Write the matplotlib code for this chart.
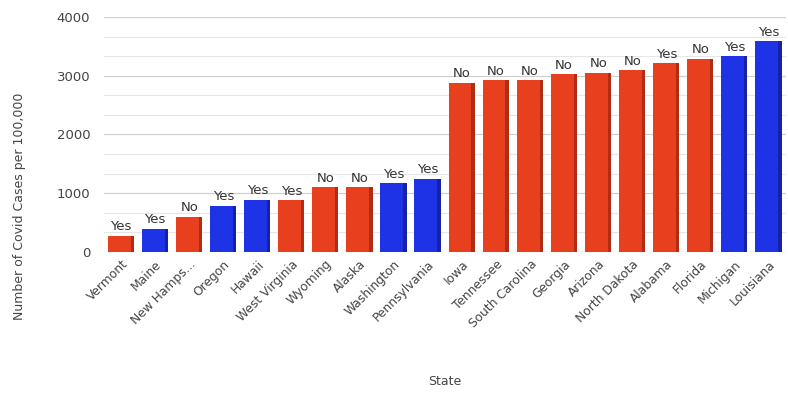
import matplotlib
matplotlib.use("Agg")
import matplotlib.pyplot as plt
import numpy as np
from matplotlib.ticker import MultipleLocator

states = ["Vermont", "Maine", "New Hamps...", "Oregon", "Hawaii", "West Virginia",
          "Wyoming", "Alaska", "Washington", "Pennsylvania", "Iowa", "Tennessee",
          "South Carolina", "Georgia", "Arizona", "North Dakota", "Alabama",
          "Florida", "Michigan", "Louisiana"]
cases = [280, 400, 600, 790, 890, 880, 1100, 1100, 1170, 1250, 2880, 2930,
         2930, 3030, 3050, 3100, 3210, 3290, 3330, 3590]
labels = ["Yes", "Yes", "No", "Yes", "Yes", "Yes", "No", "No", "Yes", "Yes",
          "No", "No", "No", "No", "No", "No", "Yes", "No", "Yes", "Yes"]
party = ["R", "D", "R", "D", "D", "R", "R", "R", "D", "D", "R", "R", "R", "R",
         "R", "R", "R", "R", "D", "D"]

face = {"R": "#e8401f", "D": "#1f33e6"}
side = {"R": "#b02c14", "D": "#1522a8"}

fig = plt.figure(figsize=(7.88, 3.95), dpi=100)
ax = fig.add_axes([0.132, 0.362, 0.865, 0.595])

x = np.arange(len(states))
fc = [face[p] for p in party]
sc = [side[p] for p in party]
ax.bar(x - 0.05, cases, width=0.68, color=fc, zorder=3, linewidth=0)
ax.bar(x + 0.33, cases, width=0.1, color=sc, zorder=3, linewidth=0)

for xi, v, t in zip(x, cases, labels):
    ax.text(xi, v + 40, t, ha="center", va="bottom", fontsize=9.5, color="#333333")

ax.set_xlim(-0.5, len(states) - 0.5)
ax.set_ylim(0, 4000)
ax.yaxis.set_major_locator(MultipleLocator(1000))
ax.yaxis.set_minor_locator(MultipleLocator(1000 / 3))
ax.grid(axis="y", which="major", color="#d0d0d0", linewidth=0.9, zorder=0)
ax.grid(axis="y", which="minor", color="#e6e6e6", linewidth=0.8, zorder=0)
ax.tick_params(axis="y", which="both", length=0, labelsize=9.5, labelcolor="#444444", pad=10)
ax.tick_params(axis="x", length=0, labelsize=8.8, labelcolor="#444444", pad=4)
ax.set_xticks(x)
ax.set_xticklabels(states, rotation=45, ha="right", rotation_mode="anchor")
for s in ax.spines.values():
    s.set_visible(False)
ax.axhline(0, color="#aaaaaa", linewidth=0.8, zorder=2)

ax.set_ylabel("Number of Covid Cases per 100,000", fontsize=9, color="#444444")
ax.yaxis.set_label_coords(-0.114, 0.196)
ax.set_xlabel("State", fontsize=9, color="#444444")
ax.xaxis.set_label_coords(0.50, -0.525)

fig.savefig("out.png", dpi=100)
